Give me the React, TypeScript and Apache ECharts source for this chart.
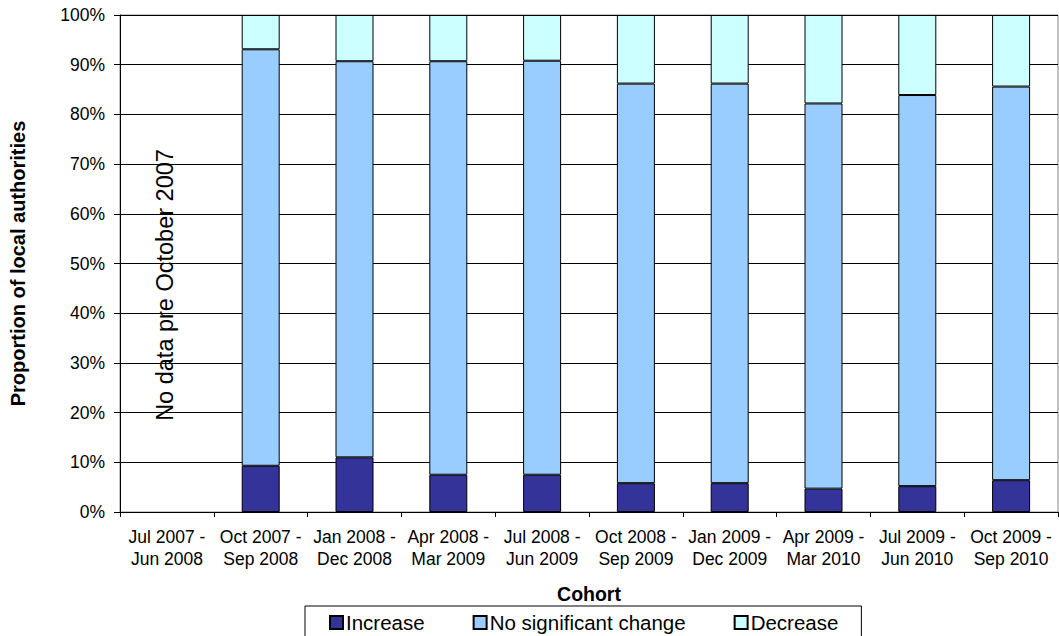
import React, { useEffect, useRef } from "react";
import * as echarts from "echarts";

// Cohort periods (two-line axis labels)
const cohorts = [
  "Jul 2007 -\nJun 2008",
  "Oct 2007 -\nSep 2008",
  "Jan 2008 -\nDec 2008",
  "Apr 2008 -\nMar 2009",
  "Jul 2008 -\nJun 2009",
  "Oct 2008 -\nSep 2009",
  "Jan 2009 -\nDec 2009",
  "Apr 2009 -\nMar 2010",
  "Jul 2009 -\nJun 2010",
  "Oct 2009 -\nSep 2010",
];

// Share of local authorities (%) in each outcome group
const increase = [null, 9.3, 11.0, 7.5, 7.5, 5.8, 5.8, 4.7, 5.2, 6.4];
const noChange = [null, 83.8, 79.7, 83.2, 83.3, 80.4, 80.4, 77.5, 78.7, 79.2];
const decrease = [null, 6.9, 9.3, 9.3, 9.2, 13.8, 13.8, 17.8, 16.1, 14.4];

const yTicks = { min: 0, max: 100, interval: 10 };

const FONT = "'Liberation Sans', Arial, sans-serif";

export default function App() {
  const ref = useRef<HTMLDivElement>(null);

  useEffect(() => {
    if (!ref.current) return;
    const chart = echarts.init(ref.current, null, { renderer: "svg" });

    const barStyle = (color: string) => ({
      color,
      borderColor: "#000",
      borderWidth: 1,
    });

    chart.setOption({
      animation: false,
      backgroundColor: "#fff",
      textStyle: { fontFamily: FONT, color: "#000" },
      grid: {
        left: 119,
        right: 1,
        top: 15,
        bottom: 124,
        containLabel: false,
        show: true,
        borderColor: "#888",
        borderWidth: 1,
      },
      xAxis: {
        type: "category",
        data: cohorts,
        name: "Cohort",
        nameLocation: "middle",
        nameGap: 72,
        nameTextStyle: { fontFamily: FONT, fontSize: 19.5, fontWeight: "bold", color: "#000" },
        axisLine: { show: true, lineStyle: { color: "#000", width: 1 } },
        axisTick: { show: true, alignWithLabel: false, length: 5, lineStyle: { color: "#000" } },
        axisLabel: {
          interval: 0,
          fontFamily: FONT,
          fontSize: 17.5,
          lineHeight: 22,
          margin: 14,
          color: "#000",
        },
        splitLine: { show: false },
      },
      yAxis: {
        type: "value",
        min: yTicks.min,
        max: yTicks.max,
        interval: yTicks.interval,
        name: "Proportion of local authorities",
        nameLocation: "middle",
        nameRotate: 90,
        nameGap: 92,
        nameTextStyle: { fontFamily: FONT, fontSize: 20, fontWeight: "bold", color: "#000" },
        axisLine: { show: true, lineStyle: { color: "#000", width: 1 } },
        axisTick: { show: true, length: 6, lineStyle: { color: "#000" } },
        axisLabel: {
          formatter: "{value}%",
          fontFamily: FONT,
          fontSize: 17.5,
          margin: 15,
          color: "#000",
        },
        splitLine: { show: true, lineStyle: { color: "#000", width: 1 } },
      },
      legend: {
        left: 305,
        top: 606,
        orient: "horizontal",
        itemWidth: 13,
        itemHeight: 13,
        itemGap: 48,
        padding: [6, 23, 6, 24],
        borderColor: "#000",
        borderWidth: 1,
        icon: "rect",
        textStyle: { fontFamily: FONT, fontSize: 20.5, color: "#000", padding: [0, 0, 0, -2] },
        data: ["Increase", "No significant change", "Decrease"],
      },
      series: [
        {
          name: "Increase",
          type: "bar",
          stack: "total",
          barWidth: 38,
          data: increase,
          itemStyle: barStyle("#333399"),
        },
        {
          name: "No significant change",
          type: "bar",
          stack: "total",
          barWidth: 38,
          data: noChange,
          itemStyle: barStyle("#99CCFF"),
        },
        {
          name: "Decrease",
          type: "bar",
          stack: "total",
          barWidth: 38,
          data: decrease,
          itemStyle: barStyle("#CCFFFF"),
        },
      ],
      graphic: [
        {
          type: "text",
          x: 165,
          y: 285,
          rotation: Math.PI / 2,
          style: {
            text: "No data pre October 2007",
            fontFamily: FONT,
            fontSize: 23.5,
            fill: "#000",
            align: "center",
            verticalAlign: "middle",
          },
        },
      ],
    });

    return () => chart.dispose();
  }, []);

  return (
    <div
      ref={ref}
      style={{ position: "fixed", left: 0, top: 0, width: 1059, height: 636, background: "#fff" }}
    />
  );
}
